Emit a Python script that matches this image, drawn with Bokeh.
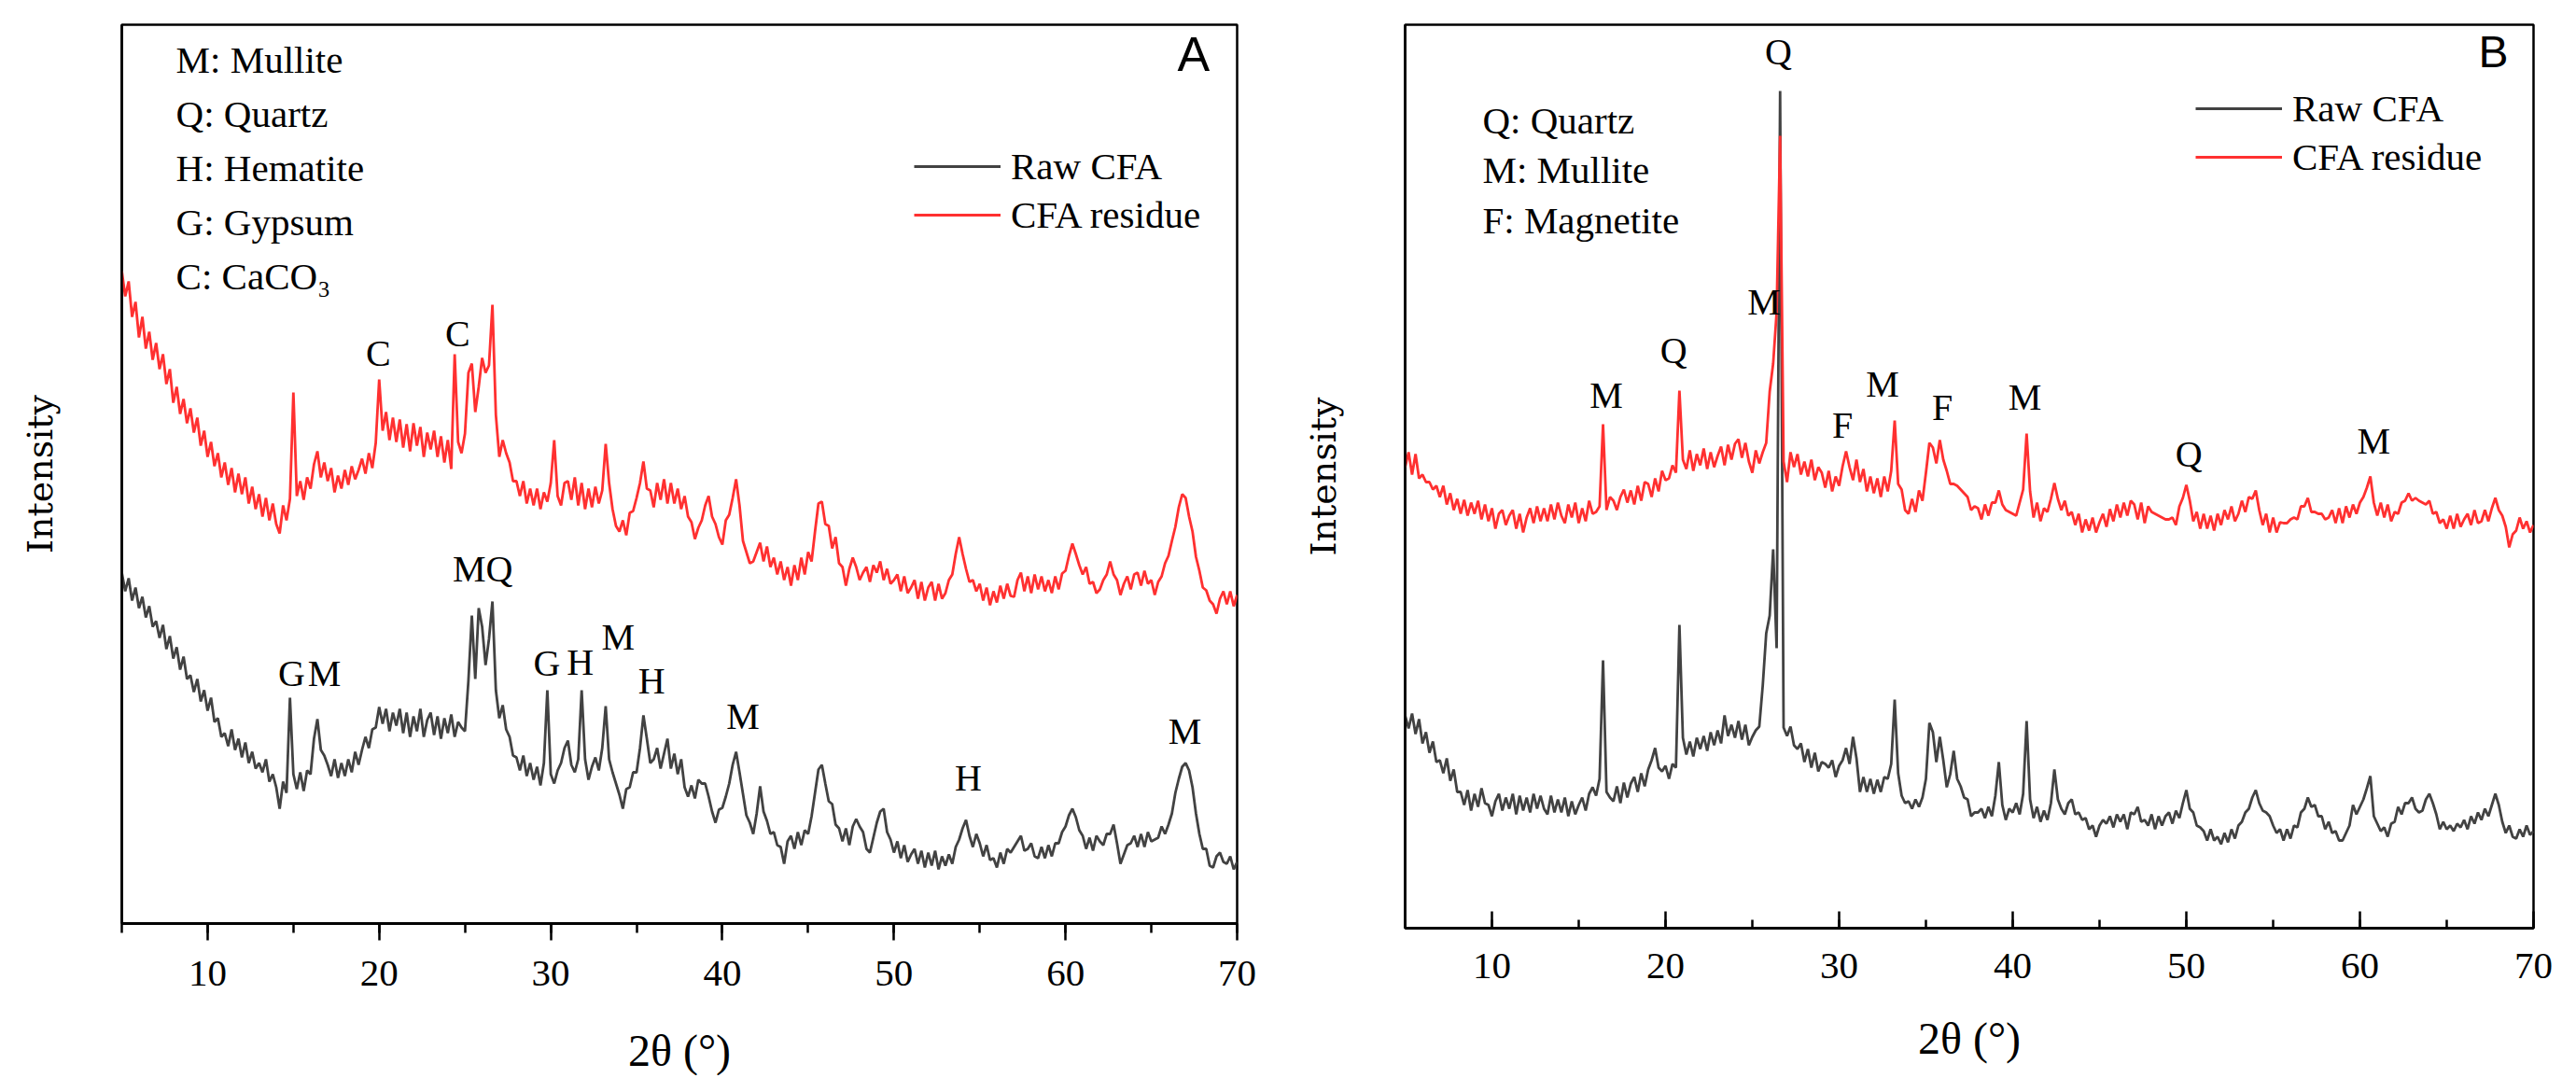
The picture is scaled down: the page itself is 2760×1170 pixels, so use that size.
import numpy as np
from bokeh.plotting import figure
from bokeh.models import Range1d, SingleIntervalTicker, FixedTicker, Label, Legend, LegendItem, ColumnDataSource
from bokeh.layouts import row
from bokeh.embed import file_html
from bokeh.resources import INLINE

# 2-theta sampling grid (degrees), 0.2 deg step
two_theta = np.round(np.arange(5.0, 70.0001, 0.2), 1)

# Panel A intensities (a.u.)
A_raw = [
    376, 356, 370, 346, 360, 338, 350, 328, 340, 318,
    324, 306, 320, 294, 308, 284, 296, 272, 286, 262,
    266, 248, 262, 238, 250, 228, 242, 216, 220, 200,
    204, 190, 208, 186, 198, 178, 194, 172, 184, 166,
    172, 162, 176, 152, 160, 146, 123, 152, 140, 242,
    160, 144, 162, 142, 164, 160, 198, 219, 186, 180,
    170, 158, 176, 156, 172, 158, 176, 162, 184, 170,
    186, 200, 188, 208, 210, 232, 214, 230, 206, 226,
    212, 230, 204, 226, 200, 222, 206, 230, 200, 218,
    226, 202, 222, 198, 220, 204, 224, 200, 216, 210,
    206, 260, 330, 262, 338, 318, 277, 305, 345, 250,
    220, 234, 208, 200, 180, 178, 164, 180, 158, 172,
    154, 168, 148, 172, 250, 160, 150, 164, 172, 188,
    196, 170, 162, 176, 250, 176, 154, 168, 178, 164,
    188, 233, 176, 162, 150, 138, 123, 144, 146, 162,
    162, 188, 223, 198, 172, 176, 188, 166, 182, 198,
    166, 182, 160, 176, 146, 136, 148, 134, 154, 150,
    150, 136, 120, 108, 122, 124, 136, 150, 170, 184,
    162, 139, 116, 108, 96, 118, 147, 120, 110, 96,
    98, 84, 82, 64, 88, 94, 80, 98, 84, 100,
    96, 115, 140, 165, 170, 150, 131, 128, 106, 102,
    88, 102, 84, 104, 112, 104, 98, 80, 76, 92,
    108, 120, 123, 98, 90, 76, 88, 70, 84, 66,
    74, 80, 64, 78, 60, 76, 62, 78, 58, 72,
    62, 74, 64, 82, 90, 102, 111, 94, 82, 96,
    86, 72, 84, 68, 70, 60, 76, 64, 80, 76,
    82, 88, 94, 78, 80, 86, 72, 70, 82, 70,
    84, 72, 86, 86, 98, 104, 116, 123, 114, 100,
    94, 80, 92, 78, 94, 88, 84, 96, 96, 106,
    86, 64, 74, 84, 86, 94, 82, 96, 82, 98,
    88, 90, 92, 104, 96, 106, 118, 140, 155, 168,
    172, 164, 146, 118, 96, 80, 80, 62, 60, 72,
    76, 66, 64, 72, 58, 66,
]
A_residue = [
    699, 672, 688, 650, 666, 628, 650, 616, 634, 604,
    622, 594, 610, 578, 594, 558, 575, 546, 562, 536,
    552, 526, 542, 512, 528, 500, 516, 490, 504, 478,
    494, 470, 488, 462, 482, 460, 478, 450, 468, 444,
    460, 436, 456, 432, 450, 428, 418, 448, 432, 455,
    569, 458, 474, 454, 478, 466, 492, 506, 478, 494,
    474, 488, 462, 480, 466, 486, 470, 490, 476, 486,
    498, 482, 504, 488, 515, 583, 528, 548, 518, 542,
    516, 540, 510, 535, 506, 536, 512, 532, 500, 526,
    508, 528, 500, 522, 494, 518, 487, 610, 516, 504,
    525, 590, 600, 548, 575, 606, 590, 598, 663, 545,
    500, 518, 504, 494, 474, 474, 458, 474, 450, 466,
    448, 466, 444, 462, 452, 472, 518, 458, 448, 472,
    474, 454, 478, 448, 472, 444, 466, 446, 468, 450,
    464, 514, 472, 444, 426, 420, 432, 416, 440, 442,
    456, 472, 495, 466, 464, 446, 472, 454, 476, 450,
    472, 450, 466, 444, 458, 436, 430, 412, 424, 432,
    448, 458, 436, 428, 414, 406, 432, 438, 456, 476,
    448, 410, 398, 386, 388, 398, 408, 388, 404, 382,
    392, 374, 388, 368, 382, 362, 384, 368, 392, 374,
    398, 388, 420, 450, 452, 428, 426, 402, 414, 386,
    382, 362, 380, 392, 382, 368, 376, 382, 366, 384,
    376, 388, 368, 380, 364, 368, 374, 356, 372, 354,
    360, 368, 348, 366, 346, 360, 366, 346, 364, 348,
    354, 368, 374, 396, 414, 396, 380, 366, 368, 356,
    364, 346, 360, 341, 356, 344, 362, 348, 364, 351,
    350, 368, 376, 356, 372, 354, 374, 358, 372, 356,
    368, 354, 372, 358, 375, 378, 394, 407, 396, 384,
    374, 382, 364, 366, 354, 358, 368, 374, 388, 374,
    368, 352, 364, 372, 358, 374, 376, 362, 378, 364,
    368, 352, 366, 372, 386, 394, 410, 425, 446, 460,
    456, 436, 420, 393, 378, 360, 357, 346, 342, 332,
    348, 356, 342, 356, 340, 352,
]

# Panel B intensities (a.u.)
B_raw = [
    228, 214, 230, 208, 224, 198, 210, 188, 200, 178,
    180, 166, 182, 158, 170, 146, 146, 132, 148, 126,
    144, 130, 150, 134, 132, 120, 136, 144, 126, 140,
    128, 144, 122, 142, 126, 140, 124, 144, 128, 142,
    128, 122, 142, 124, 138, 124, 140, 120, 136, 122,
    132, 140, 126, 144, 151, 142, 160, 287, 146, 140,
    136, 152, 134, 156, 140, 155, 162, 146, 166, 152,
    170, 180, 193, 172, 168, 174, 160, 176, 172, 325,
    204, 186, 200, 184, 204, 192, 206, 190, 210, 196,
    212, 198, 228, 206, 218, 204, 222, 202, 218, 196,
    205, 212, 216, 260, 316, 335, 406, 300, 897, 215,
    206, 216, 196, 192, 198, 178, 192, 172, 188, 168,
    178, 176, 172, 180, 162, 174, 180, 193, 176, 205,
    182, 146, 162, 146, 160, 144, 159, 146, 162, 160,
    176, 245, 166, 142, 134, 136, 128, 138, 130, 140,
    160, 220, 210, 178, 205, 180, 151, 165, 190, 160,
    152, 140, 138, 120, 124, 124, 128, 118, 130, 120,
    142, 178, 132, 116, 128, 124, 134, 122, 144, 222,
    138, 118, 130, 114, 126, 116, 134, 170, 138, 128,
    122, 134, 138, 122, 124, 116, 118, 106, 110, 98,
    110, 116, 112, 120, 108, 122, 114, 122, 106, 124,
    122, 130, 114, 116, 110, 122, 106, 120, 110, 120,
    124, 112, 126, 118, 134, 148, 128, 124, 110, 108,
    104, 94, 106, 94, 98, 90, 102, 92, 106, 96,
    110, 114, 124, 128, 140, 148, 134, 126, 124, 120,
    110, 102, 106, 94, 106, 96, 110, 108, 124, 128,
    140, 130, 132, 120, 120, 106, 114, 102, 104, 94,
    94, 102, 110, 132, 122, 130, 138, 150, 163, 120,
    112, 104, 108, 98, 112, 114, 130, 122, 134, 134,
    140, 128, 124, 126, 138, 144, 134, 122, 106, 114,
    106, 110, 104, 112, 108, 116, 106, 120, 112, 124,
    116, 128, 120, 132, 144, 132, 114, 102, 110, 98,
    96, 106, 98, 110, 100, 104,
]
B_residue = [
    494, 510, 486, 508, 482, 486, 478, 478, 470, 474,
    462, 474, 454, 466, 448, 460, 444, 459, 442, 456,
    444, 458, 438, 454, 436, 450, 428, 444, 448, 432,
    442, 448, 428, 444, 424, 440, 450, 434, 452, 436,
    450, 436, 454, 438, 456, 442, 434, 454, 440, 456,
    434, 450, 436, 458, 444, 446, 452, 540, 448, 462,
    458, 448, 462, 470, 456, 469, 454, 474, 458, 478,
    476, 462, 482, 468, 490, 480, 482, 496, 488, 576,
    502, 492, 512, 490, 508, 496, 514, 492, 510, 494,
    506, 516, 496, 518, 502, 519, 524, 504, 520, 500,
    488, 512, 498, 510, 520, 575, 605, 660, 849, 500,
    478, 510, 494, 508, 486, 500, 484, 502, 480, 494,
    488, 472, 490, 468, 484, 474, 495, 511, 494, 480,
    502, 478, 492, 468, 484, 466, 482, 462, 484, 468,
    490, 544, 476, 470, 448, 444, 460, 446, 469, 458,
    488, 520, 515, 498, 523, 502, 490, 476, 476, 474,
    470, 466, 462, 448, 452, 450, 438, 454, 442, 456,
    456, 469, 454, 448, 446, 444, 442, 456, 470, 530,
    468, 440, 456, 436, 450, 446, 460, 477, 460, 448,
    458, 442, 446, 432, 444, 424, 438, 426, 440, 424,
    435, 444, 430, 449, 436, 454, 440, 456, 442, 458,
    454, 438, 456, 434, 452, 446, 444, 442, 440, 438,
    438, 440, 432, 452, 461, 475, 458, 436, 446, 428,
    444, 428, 442, 426, 444, 432, 448, 438, 452, 436,
    444, 458, 446, 462, 460, 469, 448, 432, 444, 424,
    440, 424, 435, 434, 434, 438, 440, 438, 452, 452,
    461, 446, 446, 444, 444, 438, 440, 448, 434, 450,
    434, 452, 440, 454, 444, 456, 462, 472, 484, 456,
    442, 456, 440, 454, 436, 446, 444, 456, 458, 466,
    458, 461, 458, 456, 454, 458, 444, 446, 434, 438,
    428, 442, 428, 444, 430, 438, 444, 432, 448, 434,
    436, 448, 436, 450, 461, 448, 442, 430, 408, 422,
    426, 440, 428, 436, 424, 432,
]

series_names = ["Raw CFA", "CFA residue"]

# Phase legend texts
phases_A = ["M: Mullite", "Q: Quartz", "H: Hematite", "G: Gypsum", "C: CaCO\u2083"]
phases_B = ["Q: Quartz", "M: Mullite", "F: Magnetite"]

# Peak letters: (letter, 2theta, intensity)
peaks_A = [("C", 19.95, 611), ("C", 24.57, 632), ("G", 14.9, 268), ("M", 16.8, 268),
           ("MQ", 26.03, 380), ("G", 29.77, 279), ("H", 31.72, 280), ("M", 33.92, 307),
           ("H", 35.88, 260), ("M", 41.2, 222), ("H", 54.33, 156), ("M", 66.96, 206)]
peaks_B = [("Q", 26.5, 939), ("M", 25.68, 671), ("Q", 20.47, 619), ("M", 16.59, 571),
           ("F", 30.2, 539), ("M", 32.5, 583), ("F", 35.95, 558), ("M", 40.7, 569),
           ("Q", 50.15, 508), ("M", 60.8, 522)]

RED = "#FF3030"
DARK = "#424242"
SERIF = "Liberation Serif"


def make_panel(frame_w, frame_h, borders, raw, residue, ticks_in, panel_letter,
               letter_pos, letter_size, phases, phase_x, phase_y, phase_step, peaks,
               legend_loc, ylabel_standoff, tick_standoff, title_standoff):
    bl, br, bt, bb = borders
    p = figure(frame_width=frame_w, frame_height=frame_h, output_backend="svg",
               toolbar_location=None,
               x_range=Range1d(5, 70), y_range=Range1d(0, frame_h),
               min_border_left=bl, min_border_right=br, min_border_top=bt, min_border_bottom=bb)
    p.grid.visible = False
    p.background_fill_color = "white"
    p.border_fill_color = "white"
    p.outline_line_color = "black"
    p.outline_line_width = 2.5

    src = ColumnDataSource(dict(x=two_theta, raw=raw, res=residue))
    r_raw = p.line("x", "raw", source=src, line_color=DARK, line_width=2.8)
    r_res = p.line("x", "res", source=src, line_color=RED, line_width=2.8)

    xa = p.xaxis[0]
    xa.ticker = SingleIntervalTicker(interval=10, num_minor_ticks=2)
    xa.axis_line_width = 3
    xa.axis_line_color = "black"
    xa.major_tick_line_width = 2.5
    xa.minor_tick_line_width = 2.5
    xa.major_tick_line_color = "black"
    xa.minor_tick_line_color = "black"
    if ticks_in:
        xa.major_tick_in, xa.major_tick_out = 18, 0
        xa.minor_tick_in, xa.minor_tick_out = 9, 0
    else:
        xa.major_tick_in, xa.major_tick_out = 0, 18
        xa.minor_tick_in, xa.minor_tick_out = 0, 10
    xa.major_label_text_font = SERIF
    xa.major_label_text_font_size = "41px"
    xa.major_label_text_color = "black"
    xa.major_label_standoff = tick_standoff
    xa.axis_label = "2\u03b8 (\u00b0)"
    xa.axis_label_text_font = SERIF
    xa.axis_label_text_font_size = "48px"
    xa.axis_label_text_font_style = "normal"
    xa.axis_label_text_color = "black"
    xa.axis_label_standoff = title_standoff

    ya = p.yaxis[0]
    ya.ticker = FixedTicker(ticks=[])
    ya.axis_line_width = 2.5
    ya.axis_line_color = "black"
    ya.major_tick_line_color = None
    ya.minor_tick_line_color = None
    ya.major_label_text_font_size = "0px"
    ya.axis_label = "Intensity"
    ya.axis_label_text_font = "DejaVu Serif"
    ya.axis_label_text_font_size = "38px"
    ya.axis_label_text_font_style = "normal"
    ya.axis_label_text_color = "black"
    ya.axis_label_standoff = ylabel_standoff

    legend = Legend(items=[LegendItem(label=series_names[0], renderers=[r_raw]),
                           LegendItem(label=series_names[1], renderers=[r_res])],
                    location=legend_loc, glyph_width=93, glyph_height=52, label_height=52,
                    label_standoff=11, spacing=0, padding=0, margin=0,
                    border_line_alpha=0, background_fill_alpha=0,
                    label_text_font=SERIF, label_text_font_size="41px",
                    label_text_color="black")
    p.add_layout(legend)

    for i, t in enumerate(phases):
        p.add_layout(Label(x=phase_x, y=phase_y - i * phase_step, text=t,
                           text_font=SERIF, text_font_size="41px", text_color="black",
                           text_align="left", text_baseline="middle"))

    for letter, px, py in peaks:
        p.add_layout(Label(x=px, y=py, text=letter, text_font=SERIF, text_font_size="40px",
                           text_color="black", text_align="center", text_baseline="middle"))

    p.add_layout(Label(x=letter_pos[0], y=letter_pos[1], text=panel_letter,
                       text_font="Liberation Sans", text_font_size=letter_size,
                       text_color="black", text_align="center", text_baseline="middle"))
    return p


pA = make_panel(1195, 963, (130, 67, 18, 171), A_raw, A_residue, False, "A",
                (67.46, 932), "52px", phases_A, 8.16, 926, 58, peaks_A,
                (849, 733), 66, 22, 40)
pB = make_panel(1209, 968, (106, 37, 26, 158), B_raw, B_residue, True, "B",
                (67.69, 939), "48px", phases_B, 9.46, 866, 53.5, peaks_B,
                (847, 800), 66, 27, 35)

layout = row(pA, pB)
open("out.html", "w").write(file_html(layout, INLINE))
